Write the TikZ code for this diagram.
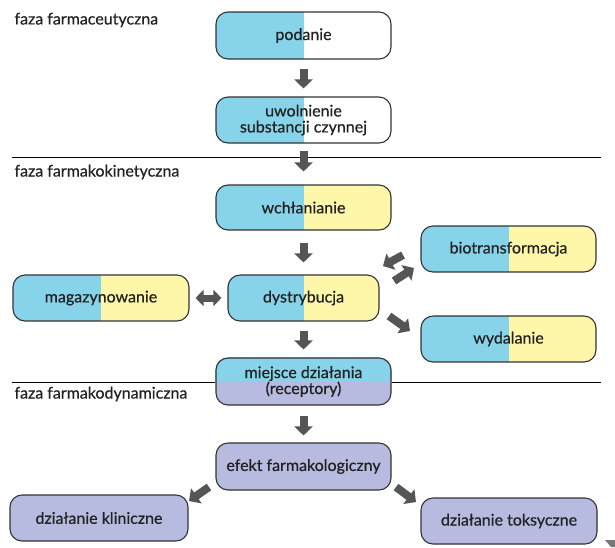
\documentclass[tikz,border=0pt]{standalone}
\usepackage{fontspec}
\setmainfont{Lato}[BoldFont=Lato, BoldFeatures={FakeBold=0.6}]
\usetikzlibrary{arrows.meta}
\definecolor{bblue}{HTML}{87D3E9}
\definecolor{byel}{HTML}{FEF6A8}
\definecolor{blav}{HTML}{B7BBE0}
\definecolor{bline}{HTML}{333333}
\definecolor{agray}{HTML}{555555}
\definecolor{tcol}{HTML}{222222}
\tikzset{
  txt/.style={font=\fontsize{16}{16}\selectfont\bfseries, text=tcol},
  box/.style={rounded corners=12pt, draw=bline, line width=1.1pt, minimum width=175pt,
    minimum height=46pt, align=center, inner sep=2pt, txt},
  halves/.style 2 args={fill=#2, path picture={
    \fill[#1, sharp corners] (path picture bounding box.south west) rectangle (path picture bounding box.north);}},
  blk/.style={line width=8pt, agray, -{Triangle[width=18pt,length=9pt]}},
  dblk/.style={line width=7pt, agray, {Triangle[width=16pt,length=8pt]}-{Triangle[width=16pt,length=8pt]}},
  phase/.style={anchor=west, txt},
  sep/.style={line width=1pt, black}
}
\begin{document}
\begin{tikzpicture}[x=1pt,y=-1pt]
\useasboundingbox (0,0) rectangle (615,547);
% phase labels
\node[phase] (ph1) at (11,20) {faza farmaceutyczna};
\node[phase] (ph2) at (11,172) {faza farmakokinetyczna};
\node[phase] (ph3) at (11,394) {faza farmakodynamiczna};
% boxes
\node[box, halves={bblue}{white}, minimum height=47pt] (pod) at (303.5,35.5) {podanie};
\node[box, halves={bblue}{white}] (uwol) at (303.5,120) {uwolnienie\\substancji czynnej};
\node[box, halves={bblue}{byel}, minimum height=45pt] (wchl) at (303.5,207.5) {wchłanianie};
\node[box, halves={bblue}{byel}] (bio) at (508.5,249) {biotransformacja};
\node[box, halves={bblue}{byel}, minimum width=176pt] (mag) at (101,298) {magazynowanie};
\node[box, halves={bblue}{byel}, minimum width=151pt] (dys) at (303.5,298) {dystrybucja};
\node[box, halves={bblue}{byel}] (wyd) at (508.5,339) {wydalanie};
% miejsce dzialania: lavender base, blue top half, then outline and text
\node[box, draw=none, fill=blav, minimum height=47pt] (miejbg) at (303.5,381.5) {};
\fill[bblue] (miejbg.west) [rounded corners=12pt] -- (miejbg.north west) -- (miejbg.north east) [sharp corners] -- (miejbg.east) -- cycle;
\node[box, minimum height=47pt] (miej) at (303.5,381.5) {miejsce działania\\(receptory)};
\node[box, fill=blav, minimum height=47pt] (efekt) at (303.5,466.5) {efekt farmakologiczny};
\node[box, fill=blav, minimum width=178pt] (klin) at (99,518) {działanie kliniczne};
\node[box, fill=blav, minimum width=176pt] (toks) at (509,521) {działanie toksyczne};
% separator lines
\coordinate (l1a) at (12,157); \coordinate (l1b) at (601,157);
\coordinate (l2a) at (12,382); \coordinate (l2b) at (601,382);
\draw[sep] (l1a) -- (l1b);
\draw[sep] (l2a) -- (miej.west |- l2a);
\draw[sep] (miej.east |- l2a) -- (l2b);
% vertical arrows
\draw[blk, shorten <=9pt, shorten >=8pt] (pod.south) -- (uwol.north);
\draw[blk, shorten <=7pt, shorten >=13pt] (uwol.south) -- (wchl.north);
\draw[blk, shorten <=12pt, shorten >=12pt] (wchl.south) -- (dys.north);
\draw[blk, shorten <=9pt, shorten >=8pt] (dys.south) -- (miej.north);
\draw[blk, shorten <=10pt, shorten >=7pt] (miej.south) -- (efekt.north);
% double arrow
\draw[dblk, shorten <=6pt, shorten >=6pt] (mag.east) -- (dys.east -| dys.west);
% diagonal arrows
\coordinate (a1s) at (403,255); \coordinate (a1e) at (383,266);
\coordinate (a2s) at (394,281); \coordinate (a2e) at (414,268);
\coordinate (a3s) at (389,316); \coordinate (a3e) at (410,331);
\coordinate (a4s) at (209,487); \coordinate (a4e) at (189,501);
\coordinate (a5s) at (396,487); \coordinate (a5e) at (416,502);
\draw[blk] (a1s) -- (a1e);
\draw[blk] (a2s) -- (a2e);
\draw[blk] (a3s) -- (a3e);
\draw[blk] (a4s) -- (a4e);
\draw[blk] (a5s) -- (a5e);
% corner mark
\fill[agray!80] (605,540) -- (615,540) -- (615,547) -- (611,547) -- cycle;
\end{tikzpicture}
\end{document}
